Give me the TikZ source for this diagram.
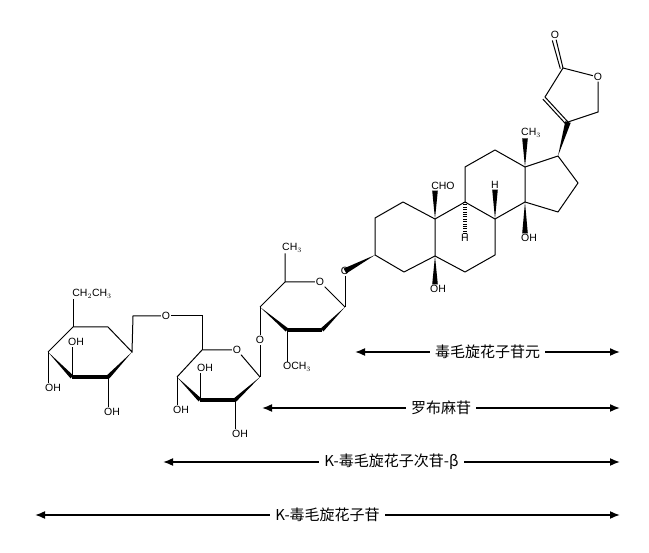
\documentclass[tikz,border=0pt]{standalone}
\usepackage{fontspec}
\setmainfont{Liberation Sans}
\newfontfamily\cjk{Noto Sans CJK SC}
\usetikzlibrary{calc,arrows.meta}

\tikzset{
  atom/.style={inner sep=0.8pt,font=\fontsize{10.5}{10.5}\selectfont},
  bond/.style={line width=1pt},
  span/.style={line width=1.6pt,{Latex[length=10pt,width=8pt]}-{Latex[length=10pt,width=8pt]}},
  spanlabel/.style={fill=white,inner sep=5pt,font=\cjk\fontsize{15}{15}\selectfont}
}
\newcommand\wedgeb[2]{\fill ($(#1)$) -- ($(#2)!2.8pt!90:(#1)$) -- ($(#2)!2.8pt!-90:(#1)$) -- cycle;}

\begin{document}
\begin{tikzpicture}[x=1pt,y=-1pt]
  \useasboundingbox (0,0) rectangle (649,553);

  % steroid skeleton
  \foreach \n/\p in {a1/{375,218},a2/{403,202},c10/{435,219},c5/{435,256},a4/{404,272},c3/{375,255},
      c9/{465,202},c8/{495,219},c7/{495,255},c6/{465,272},c11/{465,167},c12/{495,150},
      c13/{525,167},c14/{525,202},c17/{558,156},c16/{578,183},c15/{558,212},
      c20/{568,122},c21/{545,97},c22/{563,68},c23/{598,112}}
    \coordinate (\n) at (\p);
  \node[atom] (ol) at (598,77) {O};
  \node[atom] (oc) at (555,35) {O};
  \draw[bond,line join=round] (c3) -- (a1) -- (a2) -- (c10) -- (c5) -- (a4) -- cycle;
  \draw[bond,line join=round] (c10) -- (c9) -- (c8) -- (c7) -- (c6) -- (c5);
  \draw[bond,line join=round] (c9) -- (c11) -- (c12) -- (c13) -- (c14) -- (c8);
  \draw[bond,line join=round] (c13) -- (c17) -- (c16) -- (c15) -- (c14);
  \draw[bond] (c20) -- (c21) -- (c22) -- (ol) -- (c23) -- (c20);
  \draw[bond] ($(c20)!3pt!90:(c21)$) -- ($(c21)!3pt!-90:(c20)$);
  \draw[bond] (c22) -- (oc);
  \draw[bond] ($(c22)!2.8pt!90:(oc)$) -- ($(oc.south)!2.8pt!-90:(c22)$);
  \wedgeb{c17}{c20}

  % steroid substituents
  \node[atom] (me13) at (531,133) {CH$_3$};
  \node[atom] (cho) at (443,186) {CHO};
  \node[atom] (h8) at (495,185) {H};
  \node[atom] (h9) at (465,238) {H};
  \node[atom] (oh14) at (529,238) {OH};
  \node[atom] (oh5) at (438,289) {OH};
  \node[atom] (og) at (345,271) {O};
  \wedgeb{c13}{me13.south -| c13}
  \wedgeb{c10}{cho.south -| c10}
  \wedgeb{c8}{h8.south}
  \wedgeb{c14}{oh14.north -| c14}
  \wedgeb{c5}{oh5.north -| c5}
  \wedgeb{c3}{og}
  \draw[line width=3.5pt,dash pattern=on 0.8pt off 1.6pt] (c9) -- (h9.north);

  % digitoxose-type sugar
  \foreach \n/\p in {s5/{285,282},s1/{345,307},s2/{322,330},s3/{287,330},s4/{260,307}}
    \coordinate (\n) at (\p);
  \node[atom] (so) at (320,282) {O};
  \node[atom] (sme) at (292,248) {CH$_3$};
  \node[atom] (ome) at (297,367) {OCH$_3$};
  \node[atom] (ol4) at (260,340) {O};
  \draw[bond] (s5) -- (so) -- (s1);
  \draw[bond] (s4) -- (s5) -- (sme.south -| s5);
  \draw[line width=3.2pt] (s2) -- (s3);
  \fill (s1) -- ($(s2)!2pt!90:(s1)$) -- ($(s2)!2pt!-90:(s1)$) -- cycle;
  \fill (s4) -- ($(s3)!2pt!90:(s4)$) -- ($(s3)!2pt!-90:(s4)$) -- cycle;
  \draw[bond] (s1) -- (og);
  \draw[bond] (s3) -- (ome.north -| s3);
  \draw[bond] (s4) -- (ol4);

  % glucose
  \foreach \n/\p in {g5/{202,350},g1/{260,377},g2/{235,400},g3/{200,400},g4/{177,377},g6/{202,316}}
    \coordinate (\n) at (\p);
  \node[atom] (go) at (237,350) {O};
  \node[atom] (oh2g) at (240,434) {OH};
  \node[atom] (oh3g) at (205,368) {OH};
  \node[atom] (oh4g) at (181,410) {OH};
  \node[atom] (olink) at (166,316) {O};
  \draw[bond] (g4) -- (g5) -- (go) -- (g1);
  \draw[line width=3.2pt] (g2) -- (g3);
  \fill (g1) -- ($(g2)!2pt!90:(g1)$) -- ($(g2)!2pt!-90:(g1)$) -- cycle;
  \fill (g4) -- ($(g3)!2pt!90:(g4)$) -- ($(g3)!2pt!-90:(g4)$) -- cycle;
  \draw[bond] (g1) -- (ol4);
  \draw[bond] (g2) -- (oh2g.north -| g2);
  \draw[bond] (g3) -- (oh3g.south -| g3);
  \draw[bond] (g4) -- (oh4g.north -| g4);
  \draw[bond] (g5) -- (g6) -- (olink);

  % first ring
  \foreach \n/\p in {r1/{132,352},r2/{108,377},r3/{72,377},r4/{48,352},r5/{73,327},r6/{108,327},r7/{133,316}}
    \coordinate (\n) at (\p);
  \node[atom] (et) at (92,294) {CH$_2$CH$_3$};
  \node[atom] (oh3r) at (76,342) {OH};
  \node[atom] (oh4r) at (53,388) {OH};
  \node[atom] (oh2r) at (112,412) {OH};
  \draw[bond] (olink) -- (r7) -- (r1) -- (r6) -- (r5) -- (r4);
  \draw[line width=3.2pt] (r2) -- (r3);
  \fill (r1) -- ($(r2)!2pt!90:(r1)$) -- ($(r2)!2pt!-90:(r1)$) -- cycle;
  \fill (r4) -- ($(r3)!2pt!90:(r4)$) -- ($(r3)!2pt!-90:(r4)$) -- cycle;
  \draw[bond] (r5) -- (et.south -| r5);
  \draw[bond] (r3) -- (oh3r.south -| r3);
  \draw[bond] (r4) -- (oh4r.north -| r4);
  \draw[bond] (r2) -- (oh2r.north -| r2);

  % spans
  \coordinate (e1) at (620,352);
  \coordinate (e2) at (620,408);
  \coordinate (e3) at (620,462);
  \coordinate (e4) at (620,515);
  \coordinate (b1) at (355,352);
  \coordinate (b2) at (262,408);
  \coordinate (b3) at (163,462);
  \coordinate (b4) at (35,515);
  \draw[span] (b1) -- (e1) node[spanlabel,pos=0.5] {毒毛旋花子苷元};
  \draw[span] (b2) -- (e2) node[spanlabel,pos=0.5] {罗布麻苷};
  \draw[span] (b3) -- (e3) node[spanlabel,pos=0.5] {K-毒毛旋花子次苷-β};
  \draw[span] (b4) -- (e4) node[spanlabel,pos=0.5] {K-毒毛旋花子苷};
\end{tikzpicture}
\end{document}
